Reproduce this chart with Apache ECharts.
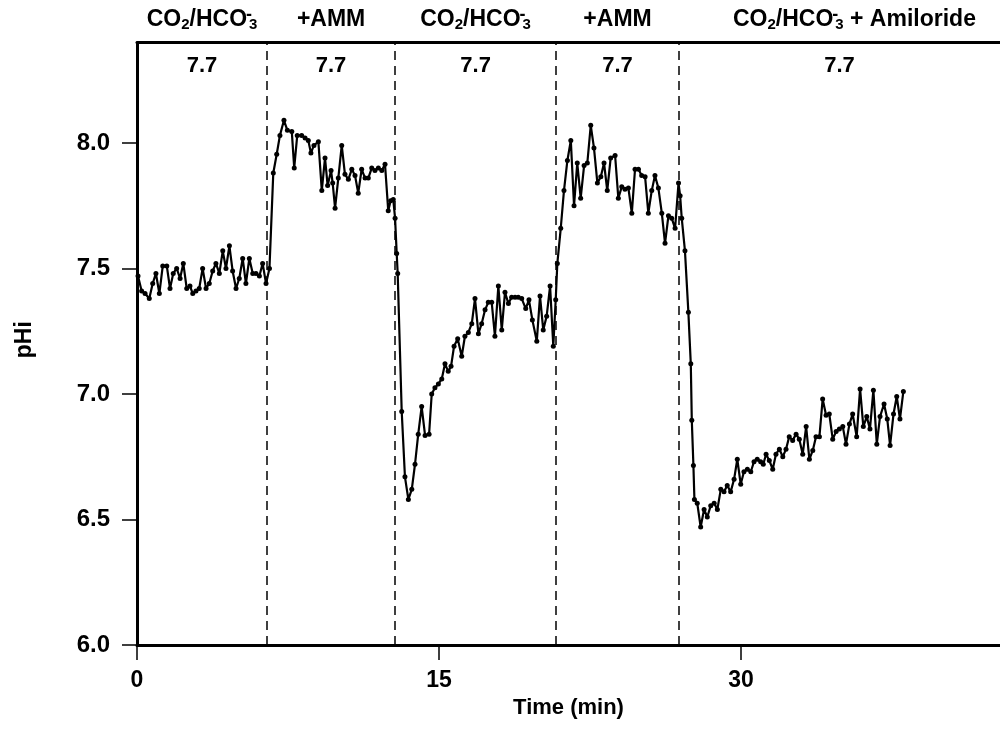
<!DOCTYPE html>
<html>
<head>
<meta charset="utf-8">
<title>pHi vs time</title>
<script src="https://cdn.jsdelivr.net/npm/echarts@6/dist/echarts.min.js"></script>
<style>
  html, body { margin: 0; padding: 0; background: #fff; }
  #chart { width: 1000px; height: 732px; }
</style>
</head>
<body>
<div id="chart"></div>
<script>
// [time (min), pHi], one array per perfusion period
var co2First = [[0.05,7.47],[0.23,7.41],[0.40,7.40],[0.61,7.38],[0.78,7.44],[0.94,7.48],[1.11,7.40],[1.28,7.51],[1.48,7.51],[1.64,7.42],
  [1.80,7.48],[1.97,7.50],[2.14,7.46],[2.30,7.52],[2.47,7.42],[2.63,7.43],[2.77,7.40],[2.93,7.41],[3.09,7.42],[3.26,7.50],
  [3.43,7.42],[3.59,7.44],[3.76,7.49],[3.92,7.52],[4.09,7.48],[4.26,7.57],[4.42,7.50],[4.59,7.59],[4.75,7.49],[4.92,7.42],
  [5.08,7.46],[5.25,7.54],[5.41,7.44],[5.58,7.54],[5.75,7.48],[5.91,7.48],[6.08,7.47],[6.24,7.52],[6.41,7.44],[6.58,7.50]];
var ammFirst = [[6.77,7.88],[6.94,7.955],[7.10,8.03],[7.30,8.09],[7.47,8.05],[7.69,8.045],[7.81,7.90],[7.96,8.03],[8.18,8.03],[8.35,8.02],
  [8.51,8.01],[8.64,7.96],[8.79,7.99],[9.01,8.005],[9.18,7.81],[9.34,7.94],[9.47,7.83],[9.64,7.89],[9.72,7.84],[9.84,7.74],
  [10.00,7.86],[10.17,7.99],[10.33,7.875],[10.50,7.855],[10.67,7.895],[10.83,7.87],[10.99,7.80],[11.16,7.895],[11.33,7.86],[11.49,7.86],
  [11.66,7.90],[11.82,7.89],[11.99,7.90],[12.16,7.89],[12.32,7.915],[12.48,7.73],[12.60,7.77],[12.73,7.775],[12.82,7.70],[12.90,7.56],[12.95,7.48]];
var co2Second = [[13.15,6.93],[13.31,6.67],[13.48,6.58],[13.65,6.62],[13.81,6.72],[13.97,6.84],[14.14,6.95],[14.31,6.835],[14.51,6.84],[14.64,7.00],
  [14.80,7.025],[14.97,7.04],[15.14,7.06],[15.30,7.12],[15.46,7.09],[15.60,7.11],[15.75,7.19],[15.93,7.22],[16.13,7.15],[16.29,7.23],
  [16.46,7.245],[16.63,7.28],[16.79,7.38],[16.96,7.24],[17.12,7.28],[17.29,7.335],[17.45,7.365],[17.62,7.365],[17.78,7.23],[17.95,7.43],
  [18.12,7.255],[18.28,7.405],[18.45,7.36],[18.61,7.385],[18.78,7.385],[18.94,7.385],[19.11,7.38],[19.31,7.34],[19.47,7.375],[19.64,7.295],
  [19.86,7.21],[20.02,7.39],[20.18,7.255],[20.35,7.31],[20.52,7.43],[20.68,7.19],[20.80,7.375],[20.88,7.52]];
var ammSecond = [[21.05,7.66],[21.21,7.81],[21.38,7.93],[21.55,8.01],[21.71,7.75],[21.87,7.92],[22.04,7.78],[22.21,7.91],[22.37,7.92],[22.54,8.07],
  [22.70,7.98],[22.87,7.84],[23.04,7.865],[23.20,7.92],[23.36,7.81],[23.53,7.94],[23.75,7.95],[23.91,7.78],[24.08,7.825],[24.24,7.815],
  [24.41,7.82],[24.58,7.72],[24.74,7.895],[24.91,7.895],[25.07,7.87],[25.24,7.865],[25.40,7.72],[25.57,7.81],[25.73,7.87],[25.90,7.82],
  [26.07,7.72],[26.23,7.60],[26.40,7.71],[26.56,7.70],[26.73,7.66],[26.90,7.84],[26.98,7.79],[27.06,7.70],[27.22,7.57],[27.39,7.325],
  [27.51,7.12],[27.56,6.895],[27.64,6.715],[27.69,6.58]];
var amiloride = [[27.83,6.565],[28.00,6.47],[28.17,6.54],[28.33,6.51],[28.50,6.555],[28.67,6.565],[28.83,6.54],[29.00,6.62],[29.16,6.61],[29.32,6.635],
  [29.49,6.61],[29.66,6.66],[29.82,6.74],[29.99,6.64],[30.15,6.69],[30.32,6.70],[30.49,6.69],[30.65,6.73],[30.81,6.74],[30.98,6.73],
  [31.11,6.72],[31.25,6.76],[31.41,6.735],[31.58,6.70],[31.74,6.76],[31.91,6.78],[32.08,6.75],[32.24,6.78],[32.40,6.83],[32.57,6.815],
  [32.74,6.84],[32.90,6.82],[33.07,6.76],[33.24,6.87],[33.40,6.74],[33.57,6.775],[33.73,6.83],[33.90,6.83],[34.06,6.98],[34.23,6.915],
  [34.39,6.92],[34.56,6.82],[34.73,6.85],[34.89,6.86],[35.06,6.87],[35.22,6.80],[35.39,6.88],[35.55,6.92],[35.75,6.83],[35.92,7.02],
  [36.08,6.87],[36.25,6.91],[36.41,6.86],[36.58,7.015],[36.75,6.80],[36.91,6.91],[37.11,6.96],[37.27,6.90],[37.41,6.795],[37.58,6.92],
  [37.74,6.99],[37.90,6.90],[38.07,7.01]];

// solution changes (dashed lines) and period labels
var switchTimes = [6.46, 12.82, 20.82, 26.92];
var solutions = [
  '{n|CO}{s|2}{n|/HCO}{m|-}{s|3}',
  '{n|+AMM}',
  '{n|CO}{s|2}{n|/HCO}{m|-}{s|3}',
  '{n|+AMM}',
  '{n|CO}{s|2}{n|/HCO}{m|-}{s|3}{n| + Amiloride}'
];
var bathPH = ['7.7', '7.7', '7.7', '7.7', '7.7'];
var xTicks = [0, 15, 30];
var yTicks = [6.0, 6.5, 7.0, 7.5, 8.0];
var xMax = 42.87;

var trace = co2First.concat(ammFirst, co2Second, ammSecond, amiloride);

var FONT = '"Liberation Sans", Arial, Helvetica, sans-serif';
var richHead = {
  n: { fontSize: 23, fontWeight: 'bold', fontFamily: FONT, color: '#000', lineHeight: 26, verticalAlign: 'middle' },
  s: { fontSize: 15, fontWeight: 'bold', fontFamily: FONT, color: '#000', lineHeight: 8, verticalAlign: 'bottom' },
  m: { fontSize: 18, fontWeight: 'bold', fontFamily: FONT, color: '#000', lineHeight: 10, verticalAlign: 'top',
       width: 0, padding: [0, 0, 0, 2] }
};

var edges = [0].concat(switchTimes, [xMax]);
var headAreas = [], phAreas = [];
for (var i = 0; i < solutions.length; i++) {
  headAreas.push([{
    xAxis: edges[i],
    label: { formatter: solutions[i], offset: i === solutions.length - 1 ? [15, 0] : [0, 0] }
  }, { xAxis: edges[i + 1] }]);
  phAreas.push([{ xAxis: edges[i], label: { formatter: bathPH[i] } }, { xAxis: edges[i + 1] }]);
}

var chart = echarts.init(document.getElementById('chart'), null, { renderer: 'canvas' });

var option = {
  animation: false,
  backgroundColor: '#fff',
  grid: { left: 137, right: 0, top: 42.5, bottom: 87 },
  xAxis: [{
    type: 'value', min: 0, max: xMax,
    name: 'Time (min)', nameLocation: 'middle', nameGap: 45,
    nameTextStyle: { fontSize: 22, fontWeight: 'bold', fontFamily: FONT, color: '#000' },
    axisLine: { show: true, lineStyle: { color: '#000', width: 3 } },
    axisTick: { show: true, customValues: xTicks, length: 15, lineStyle: { color: '#000', width: 1.5 } },
    axisLabel: { customValues: xTicks, margin: 24, fontSize: 23, fontWeight: 'bold', fontFamily: FONT, color: '#000' },
    splitLine: { show: false }
  }, {
    type: 'value', min: 0, max: xMax, position: 'top',
    axisLine: { show: true, lineStyle: { color: '#000', width: 3 } },
    axisTick: { show: false }, axisLabel: { show: false }, splitLine: { show: false }
  }],
  yAxis: {
    type: 'value', min: 6.0, max: 8.4,
    name: 'pHi', nameLocation: 'middle', nameGap: 101, nameRotate: 90,
    nameTextStyle: { fontSize: 23, fontWeight: 'bold', fontFamily: FONT, color: '#000', padding: [0, 0, 0, 8] },
    axisLine: { show: true, lineStyle: { color: '#000', width: 3 } },
    axisTick: { show: true, customValues: yTicks, length: 15, lineStyle: { color: '#000', width: 1.5 } },
    axisLabel: {
      customValues: yTicks, margin: 27, fontSize: 24, fontWeight: 'bold', fontFamily: FONT, color: '#000',
      formatter: function (v) { return v.toFixed(1); }
    },
    splitLine: { show: false }
  },
  series: [{
    type: 'line',
    data: trace,
    silent: true,
    z: 5,
    symbol: 'circle',
    symbolSize: 5,
    showAllSymbol: true,
    itemStyle: { color: '#000' },
    lineStyle: { color: '#000', width: 2.2 },
    markLine: {
      silent: true,
      symbol: ['none', 'none'],
      label: { show: false },
      lineStyle: { color: '#000', width: 1.5, type: [9, 6] },
      data: switchTimes.map(function (t) { return { xAxis: t }; })
    },
    markArea: {
      silent: true,
      itemStyle: { color: 'rgba(0,0,0,0)' },
      label: { show: true, position: 'top', distance: 10, rich: richHead },
      data: headAreas
    }
  }, {
    type: 'line',
    data: trace,
    silent: true,
    z: 1,
    showSymbol: false,
    lineStyle: { opacity: 0 },
    markArea: {
      silent: true,
      itemStyle: { color: 'rgba(0,0,0,0)' },
      label: {
        show: true, position: 'insideTop', distance: 12.5, lineHeight: 22,
        fontSize: 22, fontWeight: 'bold', fontFamily: FONT, color: '#000'
      },
      data: phAreas
    }
  }]
};

chart.setOption(option);
</script>
</body>
</html>
